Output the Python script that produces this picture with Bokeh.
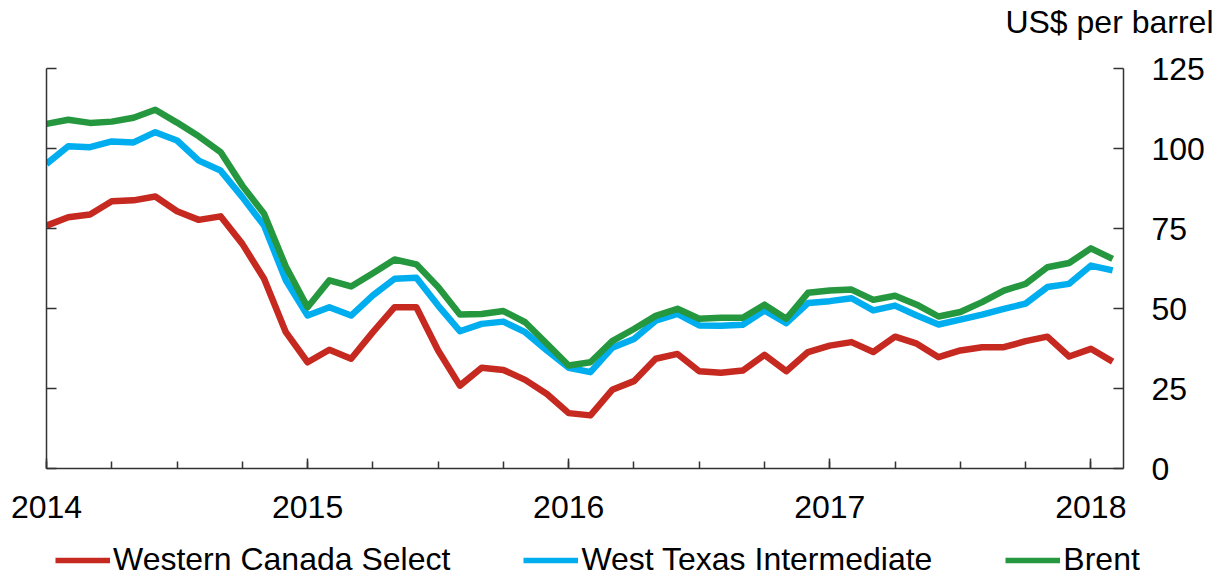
from bokeh.plotting import figure
from bokeh.layouts import column
from bokeh.models import (LinearAxis, FixedTicker, Range1d, Legend, LegendItem,
                          Title, CustomJSTickFormatter)
from bokeh.embed import file_html
from bokeh.resources import INLINE

# Monthly index: 0 = Jan 2014 ... 49 = Feb 2018
months = list(range(50))
year_ticks = [0, 12, 24, 36, 48]
year_labels = ["2014", "2015", "2016", "2017", "2018"]
quarter_ticks = list(range(0, 50, 3))
y_ticks = [0, 25, 50, 75, 100, 125]

wcs = [75.9, 78.5, 79.4, 83.5, 83.8, 85.0, 80.4, 77.7, 78.8, 70.2,
       59.3, 42.6, 33.2, 37.1, 34.3, 42.6, 50.4, 50.4, 36.9, 25.9,
       31.5, 30.8, 27.7, 23.3, 17.3, 16.6, 24.6, 27.3, 34.3, 35.8,
       30.4, 29.9, 30.6, 35.5, 30.4, 36.4, 38.4, 39.5, 36.4, 41.2,
       39.0, 34.8, 36.9, 37.9, 37.9, 39.8, 41.2, 35.0, 37.4, 33.4]
wti = [95.2, 100.7, 100.4, 102.2, 101.9, 105.1, 102.5, 96.2, 93.1, 84.8,
       75.9, 58.8, 47.8, 50.4, 47.8, 54.1, 59.3, 59.6, 50.9, 42.9,
       45.2, 45.9, 42.6, 36.9, 31.5, 30.1, 37.7, 40.5, 46.2, 48.3,
       44.7, 44.6, 44.9, 49.4, 45.4, 51.7, 52.3, 53.2, 49.4, 50.9,
       47.8, 45.0, 46.5, 48.1, 49.9, 51.5, 56.7, 57.7, 63.4, 61.9]
brent = [107.7, 109.0, 108.0, 108.4, 109.6, 112.1, 108.1, 103.8, 98.9, 88.4,
         79.6, 63.1, 50.4, 58.8, 56.9, 61.0, 65.3, 63.8, 56.7, 48.1,
         48.3, 49.2, 45.7, 39.0, 32.2, 33.2, 39.8, 43.6, 47.7, 49.9,
         46.8, 47.1, 47.1, 51.2, 46.8, 54.9, 55.6, 55.9, 52.7, 54.0,
         51.2, 47.5, 48.9, 52.0, 55.6, 57.7, 62.9, 64.2, 68.8, 65.5]

series_names = ["Western Canada Select", "West Texas Intermediate", "Brent"]
series_colors = ["#C6291F", "#00AEEF", "#25983F"]
series_values = [wcs, wti, brent]
unit_label = "US$ per barrel"

FONT = "Liberation Sans"
FS = "32px"
AX = "#333333"

# ---------------- main chart ----------------
p = figure(width=1221, height=540,
           x_range=Range1d(0, 49.5), y_range=Range1d(0, 125),
           x_axis_location=None, y_axis_location=None,
           output_backend="svg", toolbar_location=None,
           min_border_left=46, min_border_right=98,
           min_border_top=68, min_border_bottom=72,
           outline_line_color=None, frame_align=False)
p.xgrid.grid_line_color = None
p.ygrid.grid_line_color = None

xaxis = LinearAxis(ticker=FixedTicker(ticks=year_ticks, minor_ticks=quarter_ticks),
                   major_label_overrides={t: l for t, l in zip(year_ticks, year_labels)},
                   major_tick_in=10, major_tick_out=0,
                   minor_tick_in=7, minor_tick_out=0,
                   major_label_standoff=27,
                   axis_line_color=AX, axis_line_width=1.5,
                   major_tick_line_color=AX, major_tick_line_width=1.5,
                   minor_tick_line_color=AX, minor_tick_line_width=1.5,
                   major_label_text_font=FONT, major_label_text_font_size=FS,
                   major_label_text_color="black")
p.add_layout(xaxis, "below")

raxis = LinearAxis(ticker=FixedTicker(ticks=y_ticks),
                   major_tick_in=10, major_tick_out=0,
                   minor_tick_line_color=None,
                   major_label_standoff=28,
                   axis_line_color=AX, axis_line_width=1.5,
                   major_tick_line_color=AX, major_tick_line_width=1.5,
                   major_label_text_font=FONT, major_label_text_font_size=FS,
                   major_label_text_color="black")
p.add_layout(raxis, "right")

laxis = LinearAxis(ticker=FixedTicker(ticks=y_ticks),
                   major_tick_in=10, major_tick_out=0,
                   minor_tick_line_color=None,
                   major_label_standoff=0,
                   formatter=CustomJSTickFormatter(code="return ''"),
                   major_label_text_font_size="1px",
                   axis_line_color=AX, axis_line_width=1.5,
                   major_tick_line_color=AX, major_tick_line_width=1.5)
p.add_layout(laxis, "left")

for vals, col in zip(series_values, series_colors):
    p.line(months, vals, line_color=col, line_width=6.5, line_join="round")

# spacer title (adjacent to frame), then the unit label above it
p.add_layout(Title(text=" ", text_font_size="1px", standoff=24), "above")
p.add_layout(Title(text=unit_label, align="right", offset=-90, standoff=0,
                   vertical_align="top",
                   text_font=FONT, text_font_size=FS, text_font_style="normal",
                   text_color="black"), "above")

# ---------------- legend strip ----------------
# same series, drawn outside this strip's visible range: only the legend shows
lg = figure(width=1221, height=39, x_range=Range1d(0, 49.5), y_range=Range1d(500, 501),
            x_axis_location=None, y_axis_location=None,
            output_backend="svg", toolbar_location=None,
            min_border=0, outline_line_color=None, frame_align=False)
lg.xgrid.grid_line_color = None
lg.ygrid.grid_line_color = None
legend_renderers = [lg.line(months, vals, line_color=c, line_width=5.5)
                    for vals, c in zip(series_values, series_colors)]

legend = Legend(items=[LegendItem(label=n, renderers=[r])
                       for n, r in zip(series_names, legend_renderers)],
                orientation="horizontal", location=(55, 1), margin=0,
                glyph_width=55, glyph_height=32, label_standoff=3, spacing=73,
                padding=0, border_line_color=None,
                background_fill_alpha=0,
                label_text_font=FONT, label_text_font_size=FS,
                label_text_color="black")
lg.add_layout(legend)

layout = column(p, lg, spacing=0)
open("out.html", "w").write(file_html(layout, INLINE))
